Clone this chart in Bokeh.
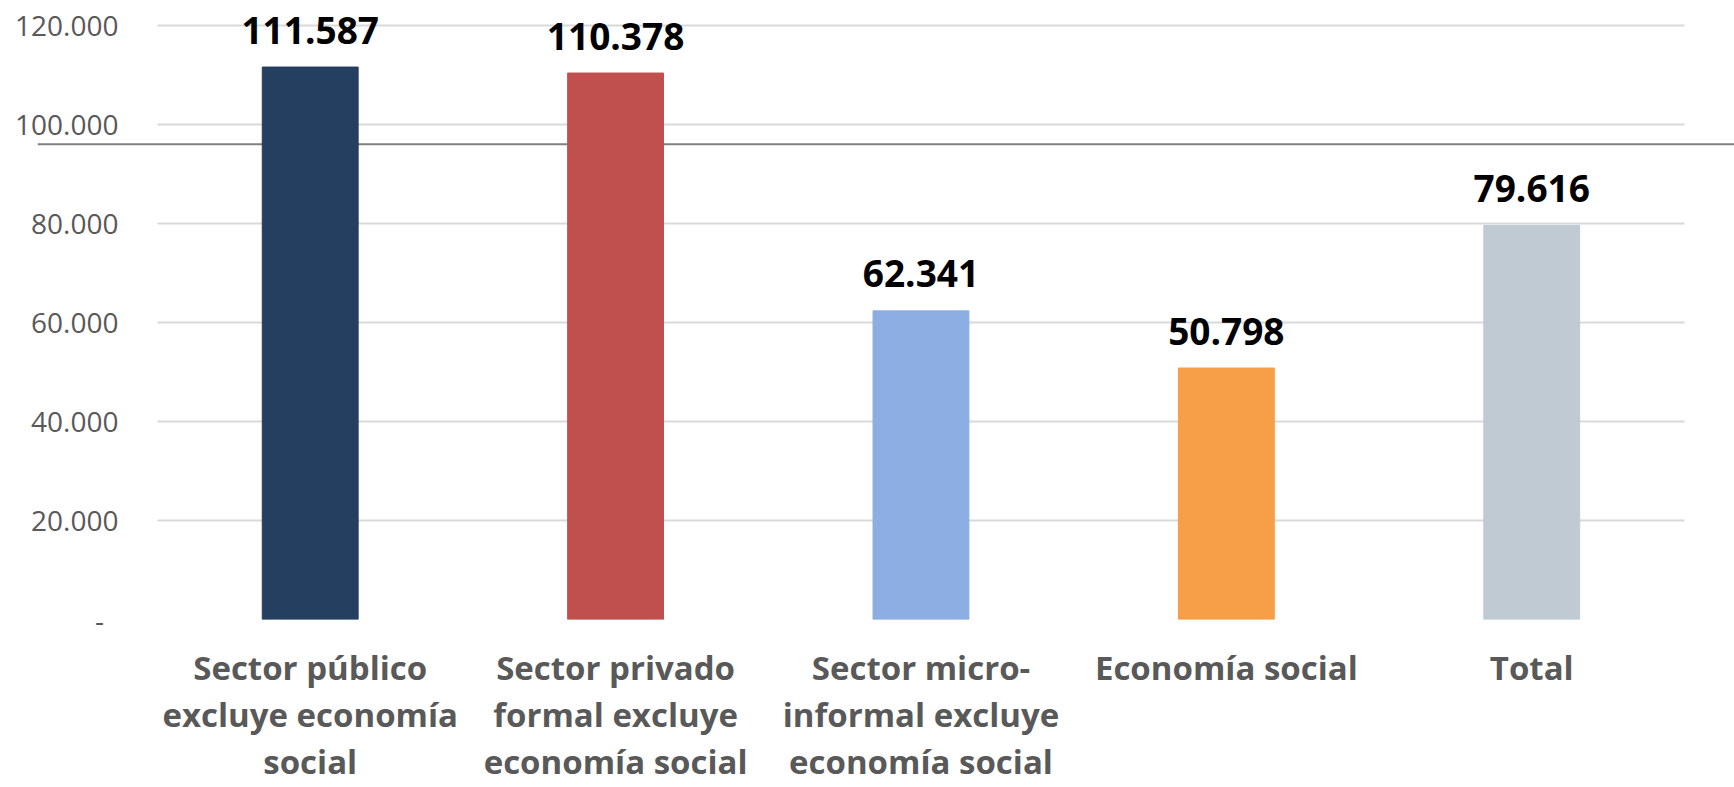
from bokeh.plotting import figure
from bokeh.models import ColumnDataSource, FixedTicker, Span, Range1d, Grid
from bokeh.core.properties import value
from bokeh.embed import file_html
from bokeh.resources import INLINE

# ---- data ----
categories = [
    "Sector público\nexcluye economía\nsocial",
    "Sector privado\nformal excluye\neconomía social",
    "Sector micro-\ninformal excluye\neconomía social",
    "Economía social",
    "Total",
]
values = [111587, 110378, 62341, 50798, 79616]
colors = ["#243F60", "#C0504D", "#8CAEE2", "#F79E48", "#BFCAD3"]
y_ticks = [0, 20000, 40000, 60000, 80000, 100000, 120000]
y_tick_labels = ["-\u00a0\u00a0", "20.000", "40.000", "60.000", "80.000", "100.000", "120.000"]
ref_line_value = 96000

positions = list(range(len(categories)))
value_labels = [f"{v:,}".replace(",", ".") for v in values]

source = ColumnDataSource(data=dict(x=positions, val=values, color=colors, lab=value_labels))

p = figure(
    x_range=Range1d(-0.893, 4.664),
    y_range=Range1d(0, 125030),
    width=1734,
    height=787,
    output_backend="svg",
    toolbar_location=None,
    min_border_left=37,
    min_border_right=0,
    min_border_top=0,
    min_border_bottom=166,
)
p.outline_line_color = None
p.background_fill_color = "white"
p.border_fill_color = "white"

# reference line (behind bars)
p.add_layout(Span(location=ref_line_value, dimension="width",
                  line_color="#808080", line_width=2, level="underlay"))

p.vbar(x="x", top="val", width=0.314, color="color", source=source)

p.text(
    x="x", y="val", text="lab", source=source,
    text_align="center", text_baseline="alphabetic", y_offset=-37,
    text_font=value("Open Sans"), text_font_style="bold",
    text_font_size="37px", text_color="black",
)

# grid
p.xgrid.grid_line_color = None
p.ygrid.grid_line_color = "#D9D9D9"
p.ygrid.grid_line_width = 2
if "cross_bounds" in Grid.properties():
    p.ygrid.cross_bounds = (-0.5, 4.5)
p.yaxis.ticker = FixedTicker(ticks=y_ticks)

# y axis (labels drawn inside the wide frame)
p.yaxis.axis_line_color = None
p.yaxis.major_tick_line_color = None
p.yaxis.minor_tick_line_color = None
p.yaxis.major_tick_out = 0
p.yaxis.major_tick_in = 0
p.yaxis.major_label_standoff = -81
p.yaxis.major_label_text_font = "Open Sans"
p.yaxis.major_label_text_font_size = "28px"
p.yaxis.major_label_text_color = "#595959"
p.yaxis.major_label_overrides = {t: l for t, l in zip(y_ticks, y_tick_labels)}

# x axis
p.xaxis.ticker = FixedTicker(ticks=positions)
p.xaxis.major_label_overrides = {i: c for i, c in zip(positions, categories)}
p.xaxis.axis_line_color = None
p.xaxis.major_tick_line_color = None
p.xaxis.minor_tick_line_color = None
p.xaxis.major_tick_out = 0
p.xaxis.major_tick_in = 0
p.xaxis.major_label_standoff = 25
p.xaxis.major_label_text_font = "Open Sans"
p.xaxis.major_label_text_font_style = "bold"
p.xaxis.major_label_text_font_size = "33px"
p.xaxis.major_label_text_color = "#595959"
p.xaxis.major_label_text_line_height = 1.05

open("out.html", "w").write(file_html(p, INLINE))
